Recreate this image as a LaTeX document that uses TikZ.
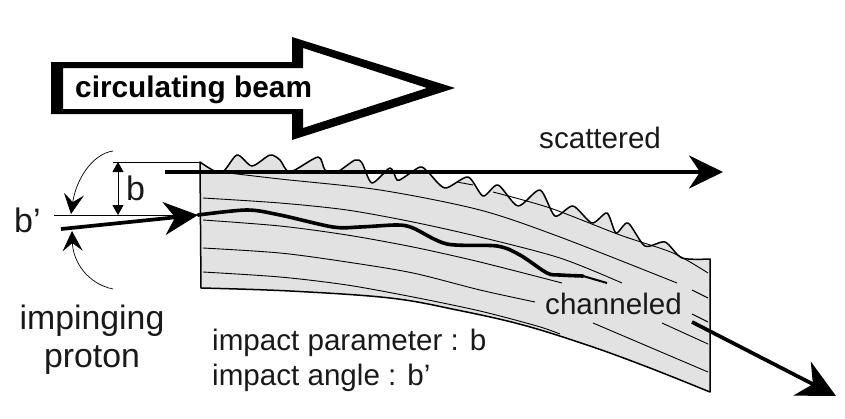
\documentclass[tikz,border=0pt]{standalone}
\usepackage{fontspec}
\setmainfont{Liberation Sans}
\usepackage{xcolor}
\usetikzlibrary{arrows.meta}
\definecolor{platefill}{HTML}{E2E2E2}
\tikzset{
  label30/.style={anchor=base west, inner sep=0pt, text=black!90, font=\fontsize{29.6}{34}\selectfont},
  label34/.style={anchor=base, inner sep=0pt, text=black!90, font=\fontsize{33.8}{38}\selectfont},
  layer/.style={black, line width=0.9pt},
  dimline/.style={black, line width=0.9pt},
  dimarrow/.style={black, line width=0.9pt, {Stealth[length=10pt,width=11pt,inset=0pt]}-{Stealth[length=10pt,width=11pt,inset=0pt]}},
  bendarrow/.style={black, line width=0.7pt, -{Stealth[length=20pt,width=20pt,inset=8pt]}},
  beam/.style={black, line width=3.7pt, -{Stealth[length=34pt,width=33pt,inset=11pt]}}
}
\begin{document}
\begin{tikzpicture}[x=1pt,y=-1pt]
\useasboundingbox (0,0) rectangle (845,418);

\fill[black, even odd rule] (51,62) -- (292,62) -- (292,37) -- (455,88) -- (292,140) -- (292,114) -- (51,114) -- cycle
  (63,68) -- (303,68) -- (303,48) -- (427,88) -- (303,128) -- (303,109) -- (63,109) -- cycle;
\node[label30, font=\bfseries\fontsize{29.8}{34}\selectfont, text=black] (circ_l) at (75,97) {circulating beam};

\draw[black, line width=1.5pt, fill=platefill, line join=round]
  plot[smooth, tension=0.45] coordinates {(200,162) (221,173) (237,155) (252,166) (270,155) (280,160) (290,172) (318,157) (325,170) (337,172) (355,160) (362,163) (372,183) (390,168) (397,180) (403,178) (420,167) (428,172) (445,188) (468,177) (483,196) (498,185) (518,206) (540,190) (555,216) (573,206) (592,223) (607,213) (616,233) (628,223) (645,246) (665,242) (682,258) (710,259)}
  -- (710,392)
  -- plot[smooth, tension=0.6] coordinates {(710,392) (650,368) (590,346) (523,325) (457,310) (390,298) (290,291) (201,288)}
  -- cycle;

\draw[layer] plot[smooth] coordinates {(457,182) (473,185)};
\draw[layer] plot[smooth] coordinates {(493,192) (550,208) (620,235) (673,253) (708,273)};
\draw[layer] plot[smooth] coordinates {(220,172) (280,179) (380,190) (480,210) (560,237) (677,283)};
\draw[layer] (692,290) -- (708,298);
\draw[layer] plot[smooth] coordinates {(203,198) (280,203) (347,210) (413,222) (480,237) (560,258) (622,283)};
\draw[layer] (692,314) -- (708,322);
\draw[layer] plot[smooth] coordinates {(203,220) (280,226) (347,235) (413,247) (480,262) (562,283)};
\draw[layer] (662,323) -- (708,344);
\draw[layer] plot[smooth] coordinates {(203,248) (280,253) (347,262) (413,273) (480,290) (535,302)};
\draw[layer] (593,323) -- (708,372);
\draw[layer] plot[smooth] coordinates {(203,272) (280,277) (347,285) (413,297) (480,311) (537,326) (560,334)};

\coordinate (dim_top) at (118,162);
\coordinate (dim_bot) at (118,215);
\coordinate (top_l) at (113,162);
\coordinate (top_r) at (200,162);
\coordinate (imp_l) at (54,215);
\coordinate (imp_r) at (198,215);
\draw[dimline] (top_l)--(top_r);
\draw[dimline] (imp_l)--(imp_r);
\draw[dimarrow] (dim_top)--(dim_bot);

\coordinate (bend_up_s) at (113,151);
\coordinate (bend_up_e) at (71,214);
\coordinate (bend_lo_s) at (113,289);
\coordinate (bend_lo_e) at (72,231);
\draw[bendarrow] (bend_up_s) .. controls (92,154) and (76,180) .. (bend_up_e);
\draw[bendarrow] (bend_lo_s) .. controls (88,284) and (73,262) .. (bend_lo_e);

\draw[black, line width=3.6pt, line cap=round] plot[smooth, tension=0.5] coordinates {(198,215) (247,210) (280,215) (333,227) (360,227) (397,225) (413,228) (447,244) (497,246) (520,255) (547,273) (560,275) (583,276)};
\draw[black, line width=2pt] (583,276) -- (607,283);

\coordinate (scat_s) at (165,172);
\coordinate (scat_e) at (723,172);
\draw[beam] (scat_s)--(scat_e);
\coordinate (imping_s) at (61,229);
\coordinate (imping_e) at (198,215);
\draw[beam] (imping_s)--(imping_e);
\coordinate (chan_s) at (692,322);
\coordinate (chan_e) at (836,396);
\draw[beam, -{Stealth[length=38pt,width=38pt,inset=12pt]}] (chan_s)--(chan_e);

\node[label30] (scat_l) at (539,148) {scattered};
\node[label30] (chan_l) at (545,314) {channeled};
\node[label30, font=\fontsize{34}{38}\selectfont] (b_l) at (126,200) {b};
\node[label30, font=\fontsize{34}{38}\selectfont] (bp_l) at (14,232) {b’};
\node[label34] (imping_l) at (92,329) {impinging};
\node[label34] (proton_l) at (92,367) {proton};
\node[label30] (param_l) at (212,350) {impact parameter : b};
\node[label30] (angle_l) at (212,385) {impact angle : b’};
\end{tikzpicture}
\end{document}
